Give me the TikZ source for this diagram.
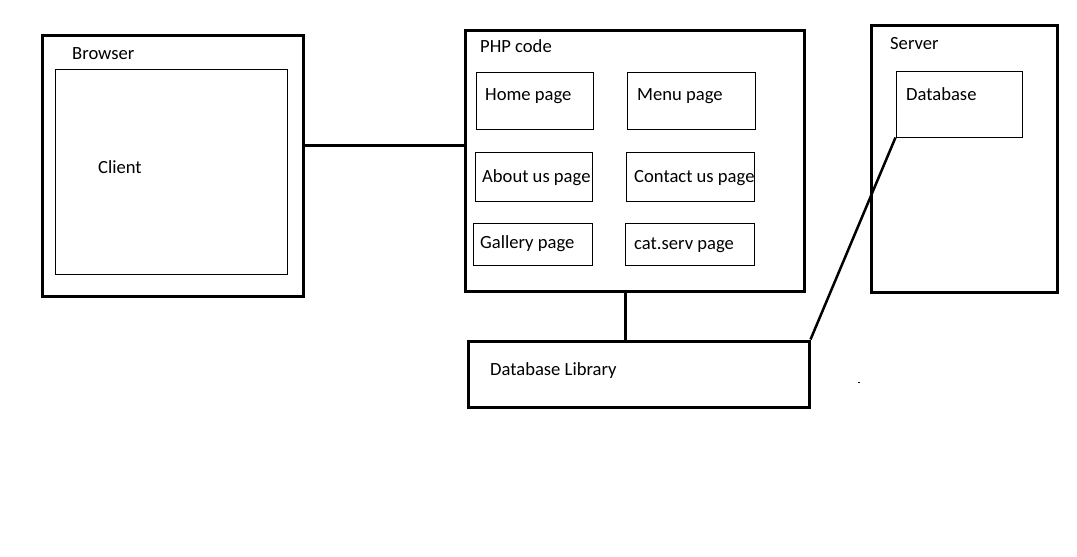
\documentclass[tikz,border=0pt]{standalone}
\usepackage{fontspec}
\setmainfont{Carlito}
\begin{document}
\begin{tikzpicture}[x=1pt,y=-1pt,
  thickbox/.style={draw=black,line width=3pt,inner sep=0pt,rectangle},
  thinbox/.style={draw=black,line width=1pt,inner sep=0pt,rectangle},
  lbl/.style={anchor=base west,inner sep=0pt,font=\fontsize{18.6}{22}\selectfont},
  wire/.style={draw=black,line width=3pt}]
\useasboundingbox (0,0) rectangle (1077,557);
% Browser
\node[thickbox,minimum width=261pt,minimum height=261pt] (browser) at (172.5,165.5) {};
\node[thinbox,minimum width=232pt,minimum height=205pt] (client) at (171,171.5) {};
\node[lbl] (tbrowser) at (72,59) {Browser};
\node[lbl] (tclient) at (98,173) {Client};
% PHP code
\node[thickbox,minimum width=339pt,minimum height=261pt] (php) at (634.5,160.5) {};
\node[lbl] (tphp) at (480,52) {PHP code};
\node[thinbox,minimum width=117pt,minimum height=57pt] (home) at (534.5,100.5) {};
\node[thinbox,minimum width=128pt,minimum height=57pt] (menu) at (691,100.5) {};
\node[thinbox,minimum width=117pt,minimum height=49pt] (about) at (533.5,176.5) {};
\node[thinbox,minimum width=128pt,minimum height=49pt] (contact) at (690,176.5) {};
\node[thinbox,minimum width=119pt,minimum height=42pt] (gallery) at (532.5,244) {};
\node[thinbox,minimum width=129pt,minimum height=42pt] (catserv) at (689.5,244) {};
\node[lbl] (thome) at (485,100) {Home page};
\node[lbl] (tmenu) at (637,100) {Menu page};
\node[lbl] (tabout) at (482,182) {About us page};
\node[lbl] (tcontact) at (634,182) {Contact us page};
\node[lbl] (tgallery) at (480,248) {Gallery page};
\node[lbl] (tcatserv) at (634,249) {cat.serv page};
% Database library
\node[thickbox,minimum width=341pt,minimum height=66pt] (dblib) at (638.5,374) {};
\node[lbl] (tdblib) at (490,375) {Database Library};
% Server
\node[thickbox,minimum width=186pt,minimum height=267pt] (server) at (964,158.5) {};
\node[lbl] (tserver) at (890,49) {Server};
\node[thinbox,minimum width=126pt,minimum height=66pt] (database) at (959,104) {};
\node[lbl] (tdatabase) at (906,100) {Database};
% connectors
\coordinate (cy) at (0,145);
\coordinate (vx) at (625,0);
\draw[wire] (browser.east |- cy) -- (php.west |- cy);
\draw[wire] (php.south -| vx) -- (dblib.north -| vx);
\draw[wire,line width=2.5pt] (dblib.north east) -- (database.south west);
% stray dot
\coordinate (dot) at (858,382);
\fill[black] (dot) rectangle ++(1.5,1);
\end{tikzpicture}
\end{document}
